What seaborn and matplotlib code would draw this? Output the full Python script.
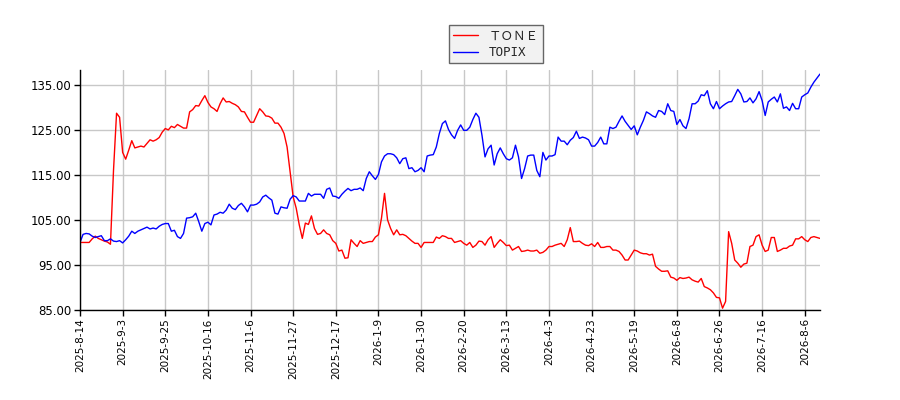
import numpy as np
import pandas as pd
import seaborn as sns
import matplotlib.pyplot as plt

# trading-day index on x, values normalised to 100 on the first day
tone = [
    100.0, 100.0, 100.0, 100.0, 100.8, 101.4, 100.9, 100.6, 100.3, 100.1,
    99.6, 116.0, 128.7, 127.8, 120.0, 118.5, 120.5, 122.6, 121.0, 121.2,
    121.4, 121.2, 122.0, 122.8, 122.5, 122.8, 123.3, 124.5, 125.3, 125.0,
    125.8, 125.5, 126.2, 125.8, 125.4, 125.4, 129.0, 129.5, 130.4, 130.3,
    131.5, 132.6, 131.1, 130.1, 129.7, 129.1, 130.8, 132.1, 131.2, 131.3,
    130.9, 130.6, 130.1, 129.1, 129.0, 127.8, 126.7, 126.7, 128.2, 129.7,
    129.0, 128.1, 128.0, 127.6, 126.5, 126.5, 125.6, 124.2, 121.2, 115.7,
    110.1, 107.6, 103.9, 100.9, 104.3, 104.0, 105.9, 103.1, 101.8, 102.0,
    102.8, 102.0, 101.7, 100.4, 99.8, 98.1, 98.3, 96.5, 96.6, 100.6,
    99.8, 99.1, 100.4, 99.8, 100.0, 100.2, 100.2, 101.2, 101.7, 105.4,
    110.9, 105.0, 103.1, 101.7, 102.8, 101.7, 101.8, 101.5, 100.9, 100.3,
    99.8, 99.8, 98.9, 100.0, 100.0, 100.0, 100.0, 101.2, 100.9, 101.5,
    101.3, 100.9, 100.9, 100.0, 100.2, 100.4, 99.8, 99.4, 100.0, 98.9,
    99.4, 100.3, 100.2, 99.4, 100.6, 101.3, 98.9, 99.8, 100.6, 100.0,
    99.3, 99.4, 98.3, 98.7, 99.1, 98.0, 98.1, 98.3, 98.1, 98.1,
    98.3, 97.6, 97.8, 98.3, 99.1, 99.1, 99.4, 99.6, 99.8, 99.1,
    100.6, 103.3, 100.2, 100.2, 100.3, 99.8, 99.4, 99.3, 99.7, 99.1,
    100.0, 98.9, 98.9, 99.1, 99.1, 98.3, 98.3, 98.0, 97.2, 96.1,
    96.1, 97.2, 98.3, 98.1, 97.7, 97.5, 97.5, 97.2, 97.4, 94.7,
    94.1, 93.6, 93.6, 93.7, 92.3, 92.1, 91.6, 92.2, 92.0, 92.1,
    92.3, 91.7, 91.4, 91.2, 92.0, 90.2, 89.9, 89.5, 88.8, 87.8,
    87.7, 85.4, 86.9, 102.4, 99.8, 96.1, 95.4, 94.5, 95.2, 95.4,
    99.1, 99.4, 101.3, 101.7, 99.4, 98.0, 98.3, 101.1, 101.1, 98.0,
    98.3, 98.7, 98.7, 99.2, 99.4, 100.8, 100.8, 101.3, 100.6, 100.2,
    101.1, 101.3, 101.1, 100.9,
]

topix = [
    100.0, 101.8, 102.0, 101.9, 101.4, 101.1, 101.3, 101.5, 100.4, 100.4,
    100.8, 100.3, 100.2, 100.4, 99.9, 100.6, 101.4, 102.5, 102.0, 102.5,
    102.8, 103.1, 103.4, 103.0, 103.2, 103.0, 103.6, 104.0, 104.2, 104.2,
    102.5, 102.7, 101.3, 100.9, 102.0, 105.4, 105.5, 105.7, 106.5, 104.6,
    102.5, 104.2, 104.5, 103.9, 106.1, 106.3, 106.7, 106.5, 107.2, 108.5,
    107.6, 107.3, 108.2, 108.7, 107.9, 106.8, 108.3, 108.3, 108.5, 109.0,
    110.1, 110.5, 109.9, 109.4, 106.5, 106.3, 107.9, 107.7, 107.6, 109.6,
    110.4, 110.1, 109.2, 109.2, 109.2, 110.9, 110.3, 110.7, 110.7, 110.7,
    109.8, 111.8, 112.1, 110.3, 110.2, 109.8, 110.7, 111.4, 112.0, 111.5,
    111.8, 111.8, 112.1, 111.5, 114.2, 115.7, 114.8, 114.0, 115.1, 117.9,
    119.2, 119.7, 119.7, 119.5, 118.8, 117.5, 118.6, 118.8, 116.4, 116.6,
    115.7, 116.0, 116.6, 115.7, 119.2, 119.4, 119.5, 121.2, 124.2, 126.4,
    127.0, 125.1, 123.9, 123.1, 124.9, 126.1, 124.9, 124.9, 125.6, 127.3,
    128.7, 127.8, 123.8, 119.0, 120.8, 121.6, 117.2, 119.7, 121.0, 119.7,
    118.6, 118.3, 118.8, 121.6, 119.0, 114.2, 116.4, 119.2, 119.4, 119.4,
    116.0, 114.6, 120.0, 118.3, 119.2, 119.2, 119.5, 123.4, 122.5, 122.5,
    121.7, 122.7, 123.3, 124.7, 123.1, 123.4, 123.2, 122.8, 121.4, 121.4,
    122.2, 123.4, 121.9, 121.9, 125.6, 125.3, 125.6, 126.9, 128.1, 126.9,
    126.0, 125.1, 125.9, 123.9, 125.6, 127.1, 129.0, 128.6, 128.1, 127.8,
    129.3, 129.1, 128.4, 130.8, 129.3, 129.1, 126.2, 127.3, 125.9, 125.3,
    127.5, 130.8, 130.8, 131.4, 132.8, 132.6, 133.7, 130.8, 129.7, 131.3,
    129.7, 130.3, 130.8, 131.2, 131.3, 132.6, 134.0, 133.0, 131.2, 131.3,
    132.1, 131.0, 131.9, 133.5, 131.5, 128.2, 131.2, 131.8, 132.3, 131.2,
    133.0, 129.8, 130.1, 129.3, 130.9, 129.7, 129.7, 132.3, 132.8, 133.2,
    134.5, 135.6, 136.5, 137.4,
]

tick_labels = [
    "2025-8-14", "2025-9-3", "2025-9-25", "2025-10-16", "2025-11-6",
    "2025-11-27", "2025-12-17", "2026-1-9", "2026-1-30", "2026-2-20",
    "2026-3-13", "2026-4-3", "2026-4-23", "2026-5-19", "2026-6-8",
    "2026-6-26", "2026-7-16", "2026-8-6",
]
tick_step = 14
names = ["ＴＯＮＥ", "TOPIX"]

sns.set_style("whitegrid")
plt.rcParams['font.family'] = ['DejaVu Sans']

df = pd.DataFrame({"day": np.arange(len(tone)), names[0]: tone, names[1]: topix})
df = df.melt(id_vars="day", var_name="name", value_name="value")

fig = plt.figure(figsize=(9, 4), dpi=100)
ax = fig.add_axes([0.0889, 0.225, 0.8222, 0.6])
sns.lineplot(data=df, x="day", y="value", hue="name", hue_order=names,
             palette={names[0]: "red", names[1]: "blue"},
             linewidth=1, ax=ax, legend=False)

ax.set_xlim(0, len(tone) - 1)
ax.set_ylim(85, 138.3)
ax.set_xticks(np.arange(len(tick_labels)) * tick_step)
ax.set_xticklabels(tick_labels, rotation=90, fontsize=7.5)
ax.set_yticks([85, 95, 105, 115, 125, 135])
ax.set_yticklabels([f"{v:.2f}" for v in [85, 95, 105, 115, 125, 135]], fontsize=8.5)
ax.set_xlabel("")
ax.set_ylabel("")

ax.grid(True, color="#c8c8c8", linewidth=1)
for side in ["top", "right"]:
    ax.spines[side].set_visible(False)
for side in ["left", "bottom"]:
    ax.spines[side].set_color("black")
    ax.spines[side].set_linewidth(1)
ax.tick_params(axis="both", direction="out", length=4, width=1, color="black",
               labelcolor="black", bottom=True, left=True, pad=2)

leg = fig.legend(ax.get_lines()[:2], names, loc="upper center",
                 bbox_to_anchor=(0.551, 0.952), fontsize=9, frameon=True,
                 fancybox=False, framealpha=1, facecolor="#f2f2f2",
                 edgecolor="#666666", handlelength=2.0, borderpad=0.35,
                 labelspacing=0.25)
leg.get_frame().set_linewidth(1)
leg.get_texts()[0].set_fontfamily(["Noto Sans CJK JP", "DejaVu Sans"])
leg.get_texts()[1].set_fontfamily(["DejaVu Sans Mono"])

fig.savefig("out.png", dpi=100)
